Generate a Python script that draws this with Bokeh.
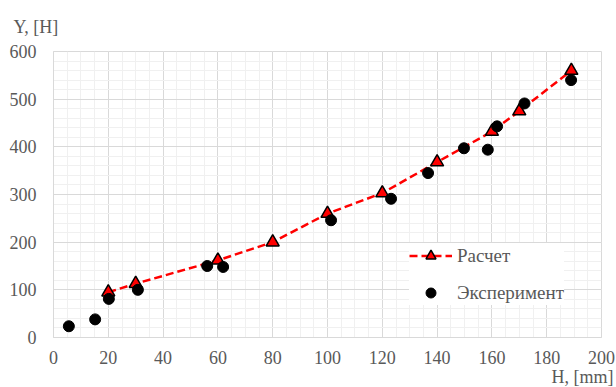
from bokeh.plotting import figure
from bokeh.models import (Range1d, SingleIntervalTicker, Legend, LegendItem, Title,
                          ColumnDataSource)
from bokeh.embed import file_html
from bokeh.resources import INLINE

# Calculated series (Расчет)
calc_x = [20, 30, 60, 80, 100, 120, 140, 160, 170, 189]
calc_y = [95, 113, 162, 200, 260, 303, 368, 432, 475, 560]

# Experimental series (Эксперимент)
exp_x = [5.6, 15.2, 20.2, 30.8, 56.1, 61.9, 101.3, 123.2, 136.7, 149.8, 158.5, 161.9, 171.9, 188.9]
exp_y = [23.6, 38, 81, 100, 150, 148, 246, 291, 345, 397, 394, 443, 491, 540]

x_label = "H, [mm]"
y_label = "Y, [H]"
series_names = ["Расчет", "Эксперимент"]

FONT = "'Liberation Serif', 'Times New Roman', serif"
GREY = "#595959"
FS = "18px"

p = figure(width=616, height=387, output_backend="svg", toolbar_location=None,
           x_range=Range1d(0, 200), y_range=Range1d(0, 600),
           min_border_left=53, min_border_right=15, min_border_top=50, min_border_bottom=50)
p.background_fill_color = "white"
p.border_fill_color = "white"
p.outline_line_color = "#d9d9d9"

p.title = Title(text=y_label, align="left", offset=-40, text_font=FONT, text_font_size=FS,
                text_color=GREY, text_font_style="normal", standoff=29)
p.add_layout(Title(text=x_label, align="right", offset=-12, text_font=FONT, text_font_size=FS,
                   text_color=GREY, text_font_style="normal", standoff=-4), "below")

p.xaxis.ticker = SingleIntervalTicker(interval=20, num_minor_ticks=4)
p.yaxis.ticker = SingleIntervalTicker(interval=100, num_minor_ticks=5)
for ax in (p.xaxis, p.yaxis):
    ax.major_tick_line_color = None
    ax.minor_tick_line_color = None
    ax.major_tick_out = 0
    ax.major_tick_in = 0
    ax.minor_tick_out = 0
    ax.minor_tick_in = 0
    ax.axis_line_color = "#d9d9d9"
    ax.major_label_text_font = FONT
    ax.major_label_text_font_size = FS
    ax.major_label_text_color = GREY
p.yaxis.major_label_standoff = 17
p.xaxis.major_label_standoff = 13

for g in (p.xgrid, p.ygrid):
    g.grid_line_color = "#d9d9d9"
    g.minor_grid_line_color = "#f0f0f0"
p.xgrid.ticker = p.xaxis.ticker
p.ygrid.ticker = p.yaxis.ticker

src_c = ColumnDataSource(dict(x=calc_x, y=calc_y))
src_e = ColumnDataSource(dict(x=exp_x, y=exp_y))

line_r = p.line("x", "y", source=src_c, line_color="#ff0000", line_width=2.5, line_dash="8 4")
tri_r = p.scatter("x", "y", source=src_c, marker="triangle", size=13,
                  fill_color="#ff0000", line_color="black", line_width=1.5)
circ_r = p.scatter("x", "y", source=src_e, marker="circle", size=11,
                   fill_color="black", line_color="black")

legend = Legend(items=[LegendItem(label=series_names[0], renderers=[line_r, tri_r]),
                       LegendItem(label=series_names[1], renderers=[circ_r])],
                location=(356, 32), margin=0, padding=12, spacing=12,
                glyph_width=43, glyph_height=25, label_standoff=5,
                label_text_font=FONT, label_text_font_size="19px", label_text_color=GREY,
                border_line_color=None, background_fill_color="white", background_fill_alpha=1.0)
p.add_layout(legend, "center")

open("out.html", "w").write(file_html(p, INLINE))
